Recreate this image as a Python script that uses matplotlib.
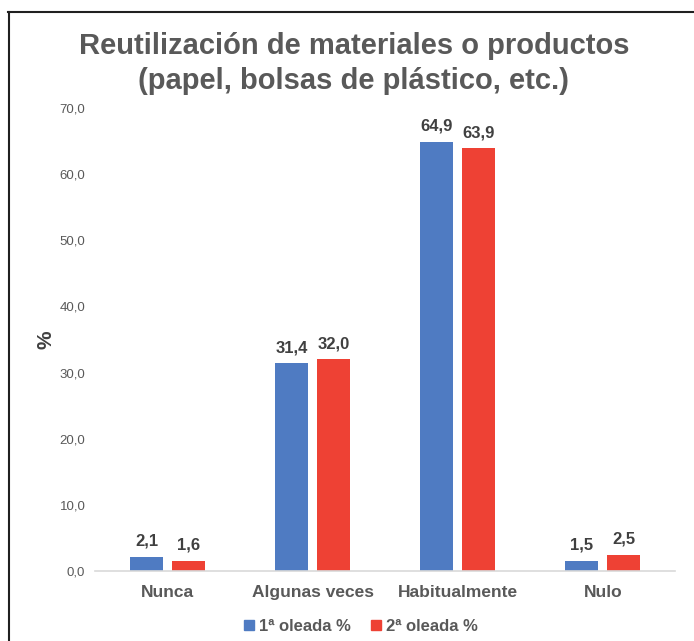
import numpy as np
import matplotlib
matplotlib.use('Agg')
import matplotlib.pyplot as plt
from matplotlib.lines import Line2D
from matplotlib.patches import Patch

plt.rcParams['font.family'] = ['Liberation Sans', 'DejaVu Sans']

categories = ['Nunca', 'Algunas veces', 'Habitualmente', 'Nulo']
oleada_1 = [2.1, 31.4, 64.9, 1.5]
oleada_2 = [1.6, 32.0, 63.9, 2.5]
series_names = ['1ª oleada %', '2ª oleada %']
y_ticks = [0, 10, 20, 30, 40, 50, 60, 70]

blue = '#4F7BC2'
red = '#EE4134'
text_gray = '#595959'
label_dark = '#404040'

fig = plt.figure(figsize=(6.94, 6.41), dpi=100)
ax = fig.add_axes([0.137, 0.109, 0.836, 0.7225])

x = np.arange(len(categories))
w = 0.23
gap = 0.06
b1 = ax.bar(x - (w + gap) / 2, oleada_1, width=w, color=blue)
b2 = ax.bar(x + (w + gap) / 2, oleada_2, width=w, color=red)

for bars, vals in ((b1, oleada_1), (b2, oleada_2)):
    for bar, v in zip(bars, vals):
        ax.annotate('{:.1f}'.format(v).replace('.', ','),
                    (bar.get_x() + bar.get_width() / 2, v),
                    xytext=(0, 6), textcoords='offset points',
                    ha='center', va='bottom', fontsize=12,
                    fontweight='bold', color=label_dark)

ax.set_xlim(-0.5, len(categories) - 0.5)
ax.set_ylim(0, 70)
ax.set_yticks(y_ticks)
ax.set_yticklabels(['{:.1f}'.format(t).replace('.', ',') for t in y_ticks],
                   fontsize=9.5, color=text_gray)
ax.set_xticks(x)
ax.set_xticklabels(categories, fontsize=12.5, fontweight='bold', color=text_gray)
ax.tick_params(axis='both', length=0)
ax.tick_params(axis='y', pad=7)
ax.tick_params(axis='x', pad=10)

for s in ('top', 'right', 'left'):
    ax.spines[s].set_visible(False)
ax.spines['bottom'].set_color('#D9D9D9')
ax.spines['bottom'].set_linewidth(1.2)

ax.set_ylabel('%', fontsize=15, fontweight='bold', color=label_dark, labelpad=3)

fig.suptitle('Reutilización de materiales o productos\n(papel, bolsas de plástico, etc.)',
             x=0.51, y=0.95, fontsize=21, fontweight='bold', color=text_gray,
             linespacing=1.3)

handles = [Patch(color=blue), Patch(color=red)]
fig.legend(handles, series_names, loc='center', bbox_to_anchor=(0.52, 0.023),
           ncol=2, frameon=False, handlelength=0.6, handleheight=0.6,
           handletextpad=0.3, columnspacing=1.2,
           prop={'size': 12, 'weight': 'bold'}, labelcolor=text_gray)

# frame lines on top and left
fig.add_artist(Line2D([8 / 694, 1.0], [1 - 12 / 641, 1 - 12 / 641],
                      color='#202020', linewidth=1.5, transform=fig.transFigure))
fig.add_artist(Line2D([9 / 694, 9 / 694], [0, 1 - 12 / 641],
                      color='#202020', linewidth=1.5, transform=fig.transFigure))

fig.savefig('out.png', dpi=100)
